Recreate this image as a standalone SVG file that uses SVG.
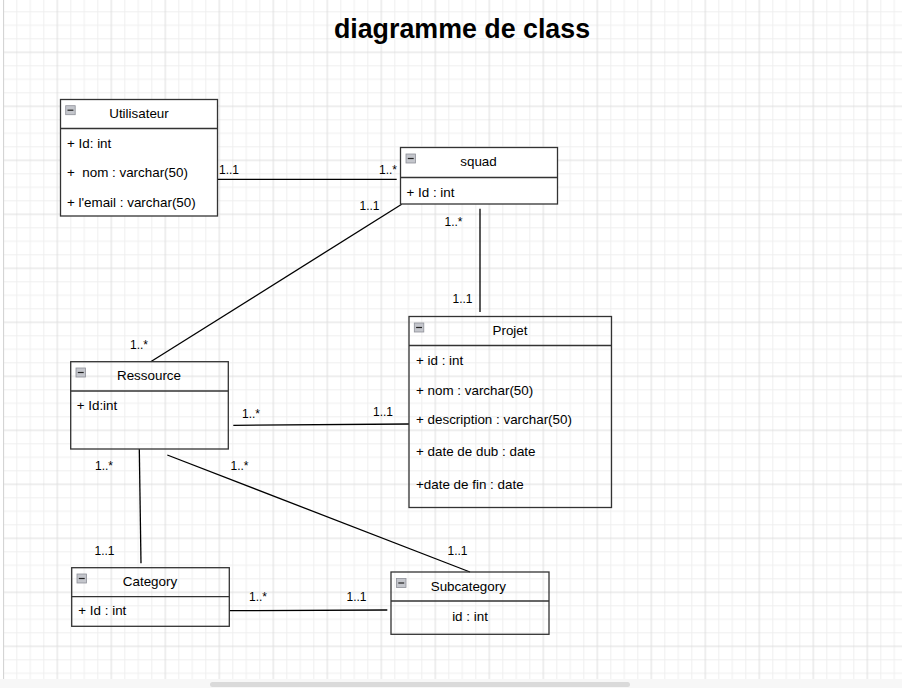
<svg xmlns="http://www.w3.org/2000/svg" width="902" height="688" viewBox="0 0 902 688">
<style>
.box{fill:none;stroke:#333;stroke-width:1.3}
.boxw{fill:#fff;stroke:#333;stroke-width:1.3}
.div{stroke:#333;stroke-width:1.3}
.t{font-family:"Liberation Sans",Arial,sans-serif;font-size:13.4px;fill:#000;white-space:pre}
.c{text-anchor:middle}
.lbl{font-family:"Liberation Sans",Arial,sans-serif;font-size:12px;fill:#000}
.conn line{stroke:#000;stroke-width:1.3}
.ico{fill:#c4c6cc;stroke:#8e9098;stroke-width:0.8}
.icl{stroke:#222;stroke-width:1.2}
</style>
<defs>
<pattern id="grid" patternUnits="userSpaceOnUse" x="2.3" y="-2.7" width="54" height="54">
<path d="M14.5 0V54M28 0V54M41.5 0V54M0 14.5H54M0 28H54M0 41.5H54" stroke="#efefef" stroke-width="1" fill="none"/>
<path d="M1 0V54M0 1H54" stroke="#dedede" stroke-width="1" fill="none"/>
</pattern>
<g id="icon"><rect class="ico" x="0" y="0" width="9.5" height="9"/><line class="icl" x1="1.8" y1="4.5" x2="7.7" y2="4.5"/></g>
</defs>
<rect x="0" y="0" width="902" height="688" fill="#fff"/>
<rect x="3" y="0" width="899" height="679" fill="url(#grid)"/>
<line x1="3.5" y1="0" x2="3.5" y2="679" stroke="#d4d4d4" stroke-width="1"/>
<rect x="0" y="679" width="902" height="9" fill="#f7f7f7"/>
<rect x="210" y="682" width="420" height="5" rx="2.5" fill="#dadada"/>

<text x="462" y="38.3" class="c" style="font-family:'Liberation Sans',Arial,sans-serif;font-weight:bold;font-size:26.8px;fill:#000">diagramme de class</text>

<g class="conn" id="connectors">
<line x1="216.7" y1="179.3" x2="396.7" y2="179.3"/>
<line x1="401.7" y1="204.3" x2="150.7" y2="361.7"/>
<line x1="480" y1="208.7" x2="480" y2="312"/>
<line x1="233.3" y1="425.3" x2="409" y2="424"/>
<line x1="139.3" y1="449" x2="141" y2="563.3"/>
<line x1="167.3" y1="455" x2="470" y2="572"/>
<line x1="229.3" y1="610.7" x2="387.3" y2="610"/>
</g>

<g id="labels">
<text class="lbl" x="219" y="174">1..1</text>
<text class="lbl" x="379" y="174">1..*</text>
<text class="lbl" x="359.5" y="209.5">1..1</text>
<text class="lbl" x="130" y="348.5">1..*</text>
<text class="lbl" x="444.5" y="225.5">1..*</text>
<text class="lbl" x="452.5" y="302.5">1..1</text>
<text class="lbl" x="242" y="417.5">1..*</text>
<text class="lbl" x="373" y="416">1..1</text>
<text class="lbl" x="95" y="469.5">1..*</text>
<text class="lbl" x="230.5" y="469.5">1..*</text>
<text class="lbl" x="94.5" y="555">1..1</text>
<text class="lbl" x="447.5" y="555">1..1</text>
<text class="lbl" x="249" y="600.7">1..*</text>
<text class="lbl" x="346.5" y="600.7">1..1</text>
</g>

<g id="Utilisateur">
<rect class="boxw" x="60.5" y="99.5" width="157" height="116.5"/>
<line class="div" x1="60.5" y1="128.5" x2="217.5" y2="128.5"/>
<use href="#icon" x="65.7" y="105.7"/>
<text class="t c" x="139" y="117.5">Utilisateur</text>
<text class="t" x="67" y="147.5">+ Id: int</text>
<text class="t" x="67" y="176.5">+  nom : varchar(50)</text>
<text class="t" x="67" y="206.5">+ l'email : varchar(50)</text>
</g>

<g id="squad">
<rect class="boxw" x="400.5" y="147.5" width="157" height="56.5"/>
<line class="div" x1="400.5" y1="177.5" x2="557.5" y2="177.5"/>
<use href="#icon" x="406" y="154"/>
<text class="t c" x="478.5" y="165.5">squad</text>
<text class="t" x="406.5" y="196.5">+ Id : int</text>
</g>

<g id="Projet">
<rect class="box" x="409" y="316.5" width="202.5" height="191"/>
<line class="div" x1="409" y1="345.5" x2="611.5" y2="345.5"/>
<use href="#icon" x="414.3" y="323"/>
<text class="t c" x="510" y="335">Projet</text>
<text class="t" x="416" y="365">+ id : int</text>
<text class="t" x="416" y="395">+ nom : varchar(50)</text>
<text class="t" x="416" y="423.5">+ description : varchar(50)</text>
<text class="t" x="416" y="456">+ date de dub : date</text>
<text class="t" x="416" y="488.5">+date de fin : date</text>
</g>

<g id="Ressource">
<rect class="box" x="70.7" y="361.7" width="157.6" height="87.3"/>
<line class="div" x1="70.7" y1="391" x2="228.3" y2="391"/>
<use href="#icon" x="76" y="368"/>
<text class="t c" x="149" y="379.5">Ressource</text>
<text class="t" x="76.7" y="409.5">+ Id:int</text>
</g>

<g id="Category">
<rect class="box" x="71.7" y="567.7" width="157.6" height="58.6"/>
<line class="div" x1="71.7" y1="596.7" x2="229.3" y2="596.7"/>
<use href="#icon" x="77" y="574"/>
<text class="t c" x="150" y="585.7">Category</text>
<text class="t" x="78.3" y="615">+ Id : int</text>
</g>

<g id="Subcategory">
<rect class="box" x="391" y="572" width="158" height="62.3"/>
<line class="div" x1="391" y1="601" x2="549" y2="601"/>
<use href="#icon" x="396.5" y="578.5"/>
<text class="t c" x="468.3" y="591">Subcategory</text>
<text class="t c" x="470" y="621">id : int</text>
</g>
</svg>
